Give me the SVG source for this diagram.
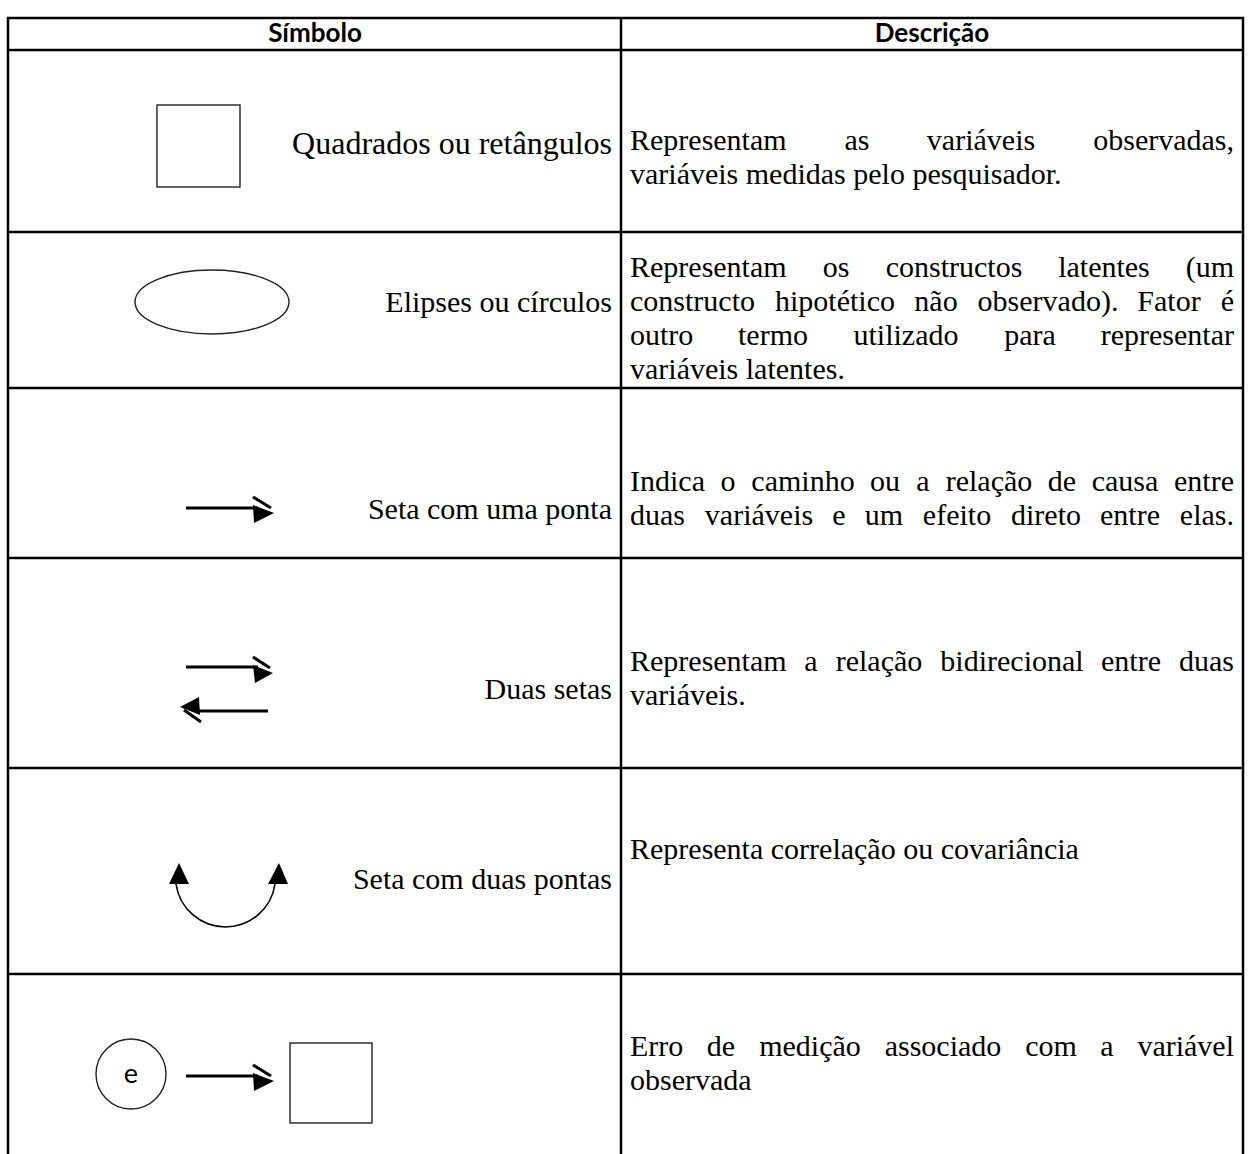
<svg xmlns="http://www.w3.org/2000/svg" width="1248" height="1154" viewBox="0 0 1248 1154">
<style>
.grid{stroke:#000;stroke-width:2.5;fill:none}
.hd{font-family:Lato,"Open Sans","Liberation Sans",sans-serif;font-weight:700;font-size:26px;fill:#000;text-anchor:middle}
.t{font-family:"Liberation Serif","Times New Roman",serif;font-size:30px;fill:#000}
.r{text-anchor:end}
.m{text-anchor:middle}
.shape{fill:#fff;stroke:#222;stroke-width:1.4}
.arr{stroke:#000;stroke-width:3;fill:none}
.head{fill:#000}
.e{font-family:Lato,"Open Sans","Liberation Sans",sans-serif;font-size:27px;fill:#000;text-anchor:middle}
</style>
<rect width="1248" height="1154" fill="#fff"/>
<g id="table">
<path class="grid" d="M8,1154 V18 H1243 V1154 M621,18 V1154 M8,50 H1243 M8,232 H1243 M8,388 H1243 M8,558 H1243 M8,768 H1243 M8,974 H1243"/>
<text class="hd" x="315" y="42">Símbolo</text>
<text class="hd" x="932" y="42">Descrição</text>
</g>
<g id="row-quadrados">
<rect class="shape" x="157" y="105" width="83" height="82"/>
<text class="t r" x="612" y="154" style="font-size:32px">Quadrados ou retângulos</text>
<text class="t" x="630" y="150">Representam</text>
<text class="t m" x="857" y="150">as</text>
<text class="t m" x="981" y="150">variáveis</text>
<text class="t r" x="1234" y="150">observadas,</text>
<text class="t" x="630" y="184">variáveis medidas pelo pesquisador.</text>
</g>
<g id="row-elipses">
<ellipse class="shape" cx="212" cy="302" rx="77" ry="32"/>
<text class="t r" x="612" y="312">Elipses ou círculos</text>
<text class="t" x="630" y="277">Representam</text>
<text class="t m" x="836" y="277">os</text>
<text class="t m" x="954" y="277">constructos</text>
<text class="t m" x="1104" y="277">latentes</text>
<text class="t r" x="1234" y="277">(um</text>
<text class="t" x="630" y="311">constructo</text>
<text class="t m" x="835" y="311">hipotético</text>
<text class="t m" x="936" y="311">não</text>
<text class="t m" x="1048" y="311">observado).</text>
<text class="t m" x="1169" y="311">Fator</text>
<text class="t r" x="1234" y="311">é</text>
<text class="t" x="630" y="345">outro</text>
<text class="t m" x="773" y="345">termo</text>
<text class="t m" x="906" y="345">utilizado</text>
<text class="t m" x="1030" y="345">para</text>
<text class="t r" x="1234" y="345">representar</text>
<text class="t" x="630" y="379">variáveis latentes.</text>
</g>
<g id="row-seta">
<line class="arr" x1="186" y1="508" x2="258" y2="508"/>
<polygon class="head" points="253,505 274,513 254,523"/>
<line class="arr" x1="253" y1="497" x2="271" y2="508"/>
<text class="t r" x="612" y="519">Seta com uma ponta</text>
<text class="t" x="630" y="491">Indica</text>
<text class="t m" x="728" y="491">o</text>
<text class="t m" x="803" y="491">caminho</text>
<text class="t m" x="885" y="491">ou</text>
<text class="t m" x="923" y="491">a</text>
<text class="t m" x="989" y="491">relação</text>
<text class="t m" x="1062" y="491">de</text>
<text class="t m" x="1125" y="491">causa</text>
<text class="t r" x="1234" y="491">entre</text>
<text class="t" x="630" y="525">duas</text>
<text class="t m" x="759" y="525">variáveis</text>
<text class="t m" x="839" y="525">e</text>
<text class="t m" x="884" y="525">um</text>
<text class="t m" x="957" y="525">efeito</text>
<text class="t m" x="1046" y="525">direto</text>
<text class="t m" x="1130" y="525">entre</text>
<text class="t r" x="1234" y="525">elas.</text>
</g>
<g id="row-duas-setas">
<line class="arr" x1="186" y1="667" x2="258" y2="667"/>
<polygon class="head" points="253,665 273,673 255,683"/>
<line class="arr" x1="253" y1="657" x2="270" y2="668"/>
<line class="arr" x1="268" y1="711" x2="195" y2="711"/>
<polygon class="head" points="180,707 199,697 200,715"/>
<line class="arr" x1="201" y1="722" x2="184" y2="710"/>
<text class="t r" x="612" y="699">Duas setas</text>
<text class="t" x="630" y="671">Representam</text>
<text class="t m" x="811" y="671">a</text>
<text class="t m" x="879" y="671">relação</text>
<text class="t m" x="1012" y="671">bidirecional</text>
<text class="t m" x="1131" y="671">entre</text>
<text class="t r" x="1234" y="671">duas</text>
<text class="t" x="630" y="705">variáveis.</text>
</g>
<g id="row-seta-duas-pontas">
<path d="M176,884 A50,50 0 0 0 275,884" fill="none" stroke="#000" stroke-width="1.6"/>
<polygon class="head" points="169,884 189,884 179,863"/>
<polygon class="head" points="268,884 288,884 279,863"/>
<text class="t r" x="612" y="889">Seta com duas pontas</text>
<text class="t" x="630" y="859">Representa correlação ou covariância</text>
</g>
<g id="row-erro">
<circle class="shape" cx="131" cy="1074" r="35"/>
<text class="e" x="131" y="1083">e</text>
<line class="arr" x1="186" y1="1076" x2="258" y2="1076"/>
<polygon class="head" points="253,1073 274,1081 254,1091"/>
<line class="arr" x1="253" y1="1065" x2="271" y2="1076"/>
<rect class="shape" x="290" y="1043" width="82" height="80"/>
<text class="t" x="630" y="1056">Erro</text>
<text class="t m" x="721" y="1056">de</text>
<text class="t m" x="810" y="1056">medição</text>
<text class="t m" x="943" y="1056">associado</text>
<text class="t m" x="1051" y="1056">com</text>
<text class="t m" x="1107" y="1056">a</text>
<text class="t r" x="1234" y="1056">variável</text>
<text class="t" x="630" y="1090">observada</text>
</g>
</svg>
